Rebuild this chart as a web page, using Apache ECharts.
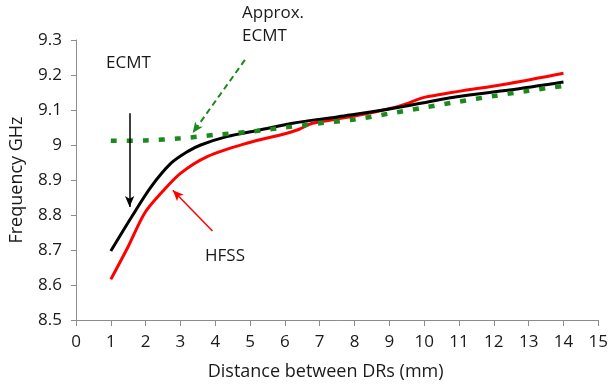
<!DOCTYPE html>
<html>
<head>
<meta charset="utf-8">
<script src="https://cdn.jsdelivr.net/npm/echarts@6/dist/echarts.min.js"></script>
<style>
  html, body { margin: 0; padding: 0; background: #fff; }
  #chart { width: 611px; height: 386px; }
</style>
</head>
<body>
<div id="chart"></div>
<script>
// ECMT (black)
const ecmtX = [1, 1.6, 2.16, 2.73, 3.2, 3.58, 4.33, 5.28, 6.22, 7.54, 8.96, 10.94, 12.45, 14];
const ecmtY = [8.697, 8.795, 8.881, 8.948, 8.981, 9.0, 9.024, 9.043, 9.062, 9.081, 9.102, 9.138, 9.157, 9.18];
// HFSS (red)
const hfssX = [1, 1.5, 1.97, 2.44, 3.0, 3.77, 4.9, 6.03, 6.41, 6.79, 7.92, 9.05, 9.53, 10, 12.45, 14];
const hfssY = [8.616, 8.71, 8.805, 8.862, 8.919, 8.967, 9.005, 9.033, 9.045, 9.062, 9.081, 9.105, 9.119, 9.136, 9.176, 9.205];
// Approx. ECMT (green dashed)
const approxX = [1, 2, 3, 4, 5, 6, 7, 8, 9, 10, 11, 12, 13, 14];
const approxY = [9.012, 9.013, 9.019, 9.029, 9.038, 9.05, 9.062, 9.073, 9.09, 9.107, 9.124, 9.14, 9.155, 9.169];

const pairs = (xs, ys) => xs.map((x, i) => [x, ys[i]]);

const font = '"Open Sans", "Noto Sans", sans-serif';
const textColor = '#1a1a1a';
const axisColor = '#8c8c8c';

const chart = echarts.init(document.getElementById('chart'));

// 注記の矢印（データ座標）
const arrow = (from, to, color, width, type) => ({
  silent: true,
  symbol: ['none', 'arrow'],
  symbolSize: [7, 11],
  label: { show: false },
  emphasis: { disabled: true },
  lineStyle: { color: color, width: width, type: type },
  data: [[{ coord: from }, { coord: to }]],
});

chart.setOption({
  animation: false,
  grid: { left: 74, right: 8, top: 40, bottom: 66 },
  xAxis: {
    type: 'value',
    min: 0,
    max: 15,
    interval: 1,
    name: 'Distance between DRs (mm)',
    nameLocation: 'middle',
    nameGap: 43,
    nameTextStyle: { fontFamily: font, fontSize: 18, color: textColor, padding: [0, 23, 0, 0] },
    axisLine: { lineStyle: { color: axisColor, width: 1 } },
    axisTick: { show: true, length: 6, lineStyle: { color: axisColor } },
    axisLabel: { fontFamily: font, fontSize: 17, color: textColor, margin: 14 },
    splitLine: { show: false },
  },
  yAxis: {
    type: 'value',
    min: 8.5,
    max: 9.3,
    interval: 0.1,
    name: 'Frequency GHz',
    nameLocation: 'middle',
    nameGap: 50,
    nameTextStyle: { fontFamily: font, fontSize: 18, color: textColor },
    axisLine: { show: true, lineStyle: { color: axisColor, width: 1 } },
    axisTick: { show: true, length: 5, lineStyle: { color: axisColor } },
    axisLabel: {
      fontFamily: font, fontSize: 17, color: textColor, margin: 14,
      formatter: (v) => String(Number(v.toFixed(1))),
    },
    splitLine: { show: false },
  },
  graphic: [
    { type: 'text', left: 106, top: 55, style: { text: 'ECMT', font: '17px "Open Sans"', fill: textColor } },
    { type: 'text', left: 242, top: 2, style: { text: 'Approx.\nECMT', font: '17px "Open Sans"', fill: textColor, align: 'center', lineHeight: 23 } },
    { type: 'text', left: 205, top: 248, style: { text: 'HFSS', font: '17px "Open Sans"', fill: textColor } },
  ],
  series: [
    {
      name: 'Approx. ECMT',
      type: 'line',
      data: pairs(approxX, approxY),
      smooth: 0.3,
      showSymbol: false,
      lineStyle: { color: '#1a8a1a', width: 4.5, type: [6, 10], cap: 'butt' },
      markLine: arrow([4.85, 9.243], [3.35, 9.034], '#1a8a1a', 2, [6, 4]),
      z: 3,
    },
    {
      name: 'HFSS',
      type: 'line',
      data: pairs(hfssX, hfssY),
      smooth: 0.3,
      showSymbol: false,
      lineStyle: { color: '#ff0000', width: 3 },
      markLine: arrow([3.92, 8.754], [2.78, 8.871], '#ff0000', 1.5, 'solid'),
      z: 2,
    },
    {
      name: 'ECMT',
      type: 'line',
      data: pairs(ecmtX, ecmtY),
      smooth: 0.3,
      showSymbol: false,
      lineStyle: { color: '#000000', width: 3 },
      markLine: arrow([1.54, 9.091], [1.54, 8.823], '#000000', 1.5, 'solid'),
      z: 2,
    },
  ],
});
</script>
</body>
</html>
